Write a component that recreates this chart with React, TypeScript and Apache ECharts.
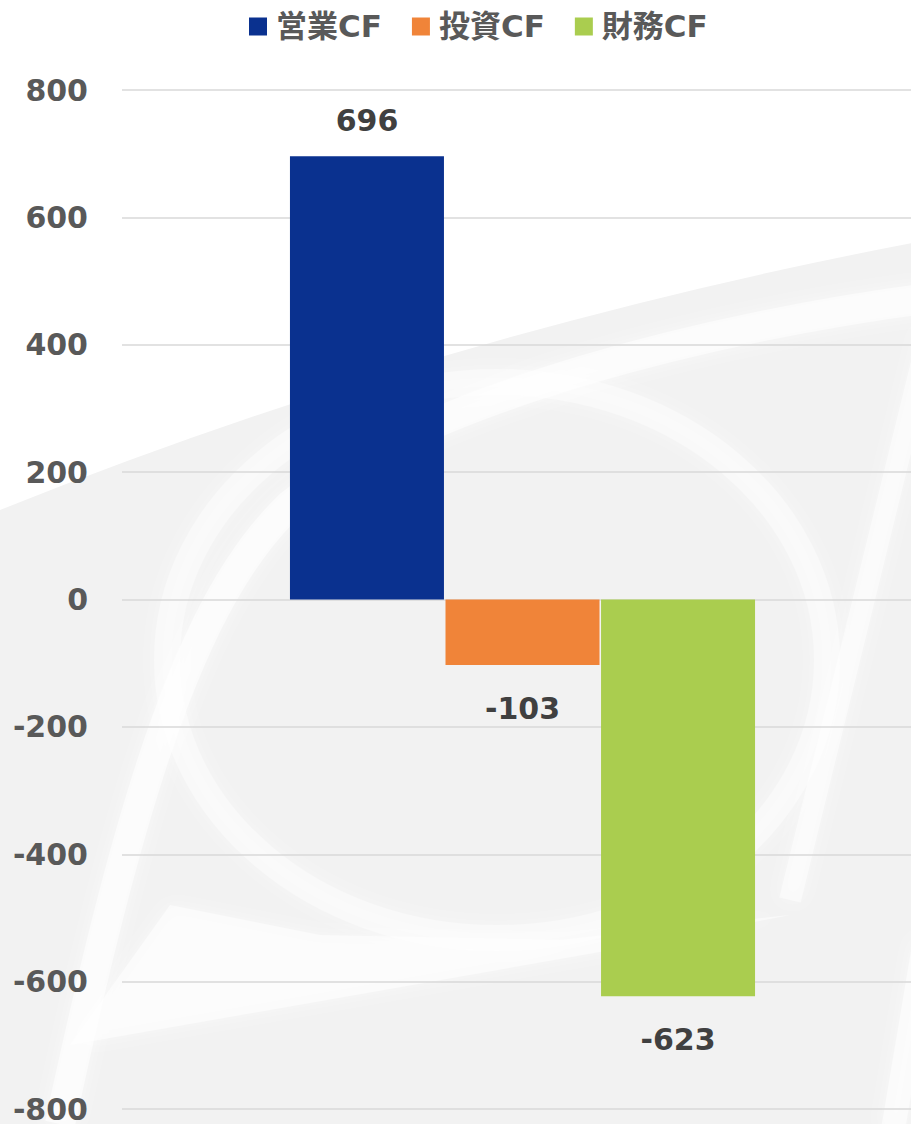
import React, { useEffect, useRef } from "react";
import * as echarts from "echarts";

const categories = [""];
const seriesNames = ["営業CF", "投資CF", "財務CF"];
const seriesValues = [696, -103, -623];
const seriesColors = ["#0a318f", "#f08439", "#aacd4f"];
const yMin = -800;
const yMax = 800;
const yInterval = 200;

const FONT = '"DejaVu Sans", "Noto Sans CJK JP", sans-serif';

// watermark shapes (decorative background)
echarts.graphic.registerShape(
  "bgBase",
  echarts.graphic.extendPath("M0,510 Q450,330 923,241 L923,1124 L0,1124 Z", {})
);
echarts.graphic.registerShape(
  "bandTop",
  echarts.graphic.extendPath("M930,298 C720,325 430,395 290,505 C190,600 130,800 60,1124", {})
);
echarts.graphic.registerShape(
  "bandLow",
  echarts.graphic.extendPath("M70,1045 L600,952 L790,915 L560,940 L320,935 L170,905 Z", {})
);
echarts.graphic.registerShape(
  "stripeR1",
  echarts.graphic.extendPath("M930,330 L790,900", {})
);
echarts.graphic.registerShape(
  "stripeR2",
  echarts.graphic.extendPath("M925,940 L893,1130", {})
);

export default function App() {
  const ref = useRef<HTMLDivElement>(null);
  useEffect(() => {
    if (!ref.current) return;
    const chart = echarts.init(ref.current, undefined, { renderer: "svg" });
    const series = seriesNames.map((name, i) => ({
      name,
      type: "bar",
      barWidth: 154,
      barGap: "1%",
      z: 3,
      itemStyle: { color: seriesColors[i] },
      data: [
        {
          value: seriesValues[i],
          label: {
            show: true,
            position: seriesValues[i] >= 0 ? "top" : "bottom",
            distance: seriesValues[i] >= 0 ? 21 : 28,
            color: "#404040",
            fontSize: 30,
            fontWeight: "bold",
            fontFamily: FONT,
          },
        },
      ],
    }));
    const soft = { shadowBlur: 18, shadowColor: "rgba(255,255,255,0.9)" };
    chart.setOption({
      animation: false,
      backgroundColor: "#ffffff",
      textStyle: { fontFamily: FONT },
      legend: {
        top: 11,
        left: 249,
        padding: 0,
        itemWidth: 18,
        itemHeight: 18,
        itemGap: 30,
        icon: "rect",
        data: seriesNames,
        textStyle: {
          fontSize: 31,
          fontWeight: "bold",
          color: "#595959",
          fontFamily: FONT,
          padding: [0, 0, 0, 4],
        },
      },
      grid: { left: 122, right: 0, top: 90, bottom: 8, containLabel: false },
      xAxis: {
        type: "category",
        data: categories,
        axisLine: { show: false },
        axisTick: { show: false },
        axisLabel: { show: false },
        splitLine: { show: false },
      },
      yAxis: {
        type: "value",
        min: yMin,
        max: yMax,
        interval: yInterval,
        axisLine: { show: false },
        axisTick: { show: false },
        axisLabel: {
          margin: 34,
          fontSize: 30,
          fontWeight: "bold",
          color: "#595959",
          fontFamily: FONT,
        },
        splitLine: { lineStyle: { color: "#d9d9d9", width: 1.5 } },
      },
      graphic: [
        { type: "bgBase", z: -10, silent: true, style: { fill: "#f2f2f2" } },
        {
          type: "ellipse",
          z: -9,
          silent: true,
          shape: { cx: 497, cy: 660, rx: 330, ry: 278 },
          style: { fill: "none", stroke: "#ffffff", lineWidth: 26, opacity: 0.4, ...soft },
        },
        {
          type: "bandTop",
          z: -9,
          silent: true,
          style: { fill: "none", stroke: "#ffffff", lineWidth: 30, opacity: 0.6, ...soft },
        },
        {
          type: "bandLow",
          z: -9,
          silent: true,
          style: { fill: "#ffffff", opacity: 0.55, ...soft },
        },
        {
          type: "stripeR1",
          z: -9,
          silent: true,
          style: { fill: "none", stroke: "#ffffff", lineWidth: 22, opacity: 0.5, ...soft },
        },
        {
          type: "stripeR2",
          z: -9,
          silent: true,
          style: { fill: "none", stroke: "#ffffff", lineWidth: 24, opacity: 0.55, ...soft },
        },
      ],
      series,
    });
    return () => chart.dispose();
  }, []);
  return (
    <div
      style={{
        position: "absolute",
        left: 0,
        top: 0,
        width: 911,
        height: 1124,
        overflow: "hidden",
      }}
    >
      <div ref={ref} style={{ width: 923, height: 1124 }} />
    </div>
  );
}
